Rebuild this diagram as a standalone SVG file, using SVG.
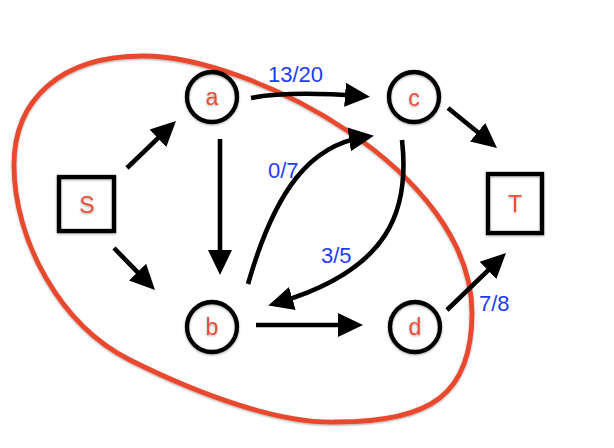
<svg xmlns="http://www.w3.org/2000/svg" width="614" height="448" viewBox="0 0 614 448">
<style>
.node{fill:none;stroke:#000;stroke-width:4.3}
.nl{font-family:"Liberation Sans",Arial,sans-serif;font-size:23px;fill:#e8503a;text-anchor:middle}
.el{font-family:"Liberation Sans",Arial,sans-serif;font-size:22px;fill:#1e3cff}
.edge{fill:none;stroke:#000;stroke-width:4.6;marker-end:url(#ah)}
</style>
<defs>
<marker id="ah" markerUnits="userSpaceOnUse" markerWidth="26" markerHeight="26" viewBox="0 0 26 26" refX="16" refY="13" orient="auto">
<path d="M0,1 L25,13 L0,25 Z" fill="#000"/>
</marker>
<filter id="sh" x="-20%" y="-20%" width="140%" height="140%">
<feDropShadow dx="0" dy="1" stdDeviation="1" flood-color="#000" flood-opacity="0.35"/>
</filter>
</defs>
<rect width="614" height="448" fill="#fff"/>
<path id="region" d="M143,56 C250,56 472,170 472,313 C472,395 430,422 337,422 C280,424 200,395 130,360 C60,325 14,240 14,165 C14,100 60,56 143,56 Z" fill="none" stroke="#e84a2f" stroke-width="4.8" filter="url(#sh)"/>
<g id="connectors">
<path class="edge" d="M127,168 L169.5,127.2"/>
<path class="edge" d="M114,248 L148.7,283.6"/>
<path class="edge" d="M220,139 L220,266"/>
<path class="edge" d="M251,98 C280,92 320,93 361,96"/>
<path class="edge" d="M448,108 L490,142.3"/>
<path class="edge" d="M447,310 L499.5,259.3"/>
<path class="edge" d="M256,325 L354,325"/>
<path class="edge" d="M248,284 C275,190 310,145 365,137"/>
<path class="edge" d="M402,140 C410,210 390,270 277,303"/>
<text class="el" x="268" y="82">13/20</text>
<text class="el" x="268" y="178">0/7</text>
<text class="el" x="321" y="263">3/5</text>
<text class="el" x="479" y="311">7/8</text>
</g>
<g id="S" filter="url(#sh)">
<rect class="node" x="59" y="177" width="55" height="54"/>
<text class="nl" x="87" y="213">S</text>
</g>
<g id="T" filter="url(#sh)">
<rect class="node" x="488" y="174" width="54" height="59"/>
<text class="nl" x="515" y="212">T</text>
</g>
<g id="a" filter="url(#sh)">
<circle class="node" cx="212" cy="97" r="25"/>
<text class="nl" x="212" y="105">a</text>
</g>
<g id="c" filter="url(#sh)">
<circle class="node" cx="414" cy="97" r="25"/>
<text class="nl" x="414" y="106">c</text>
</g>
<g id="b" filter="url(#sh)">
<circle class="node" cx="212" cy="327" r="25"/>
<text class="nl" x="212" y="335">b</text>
</g>
<g id="d" filter="url(#sh)">
<circle class="node" cx="415" cy="327" r="25"/>
<text class="nl" x="415" y="335">d</text>
</g>
</svg>
